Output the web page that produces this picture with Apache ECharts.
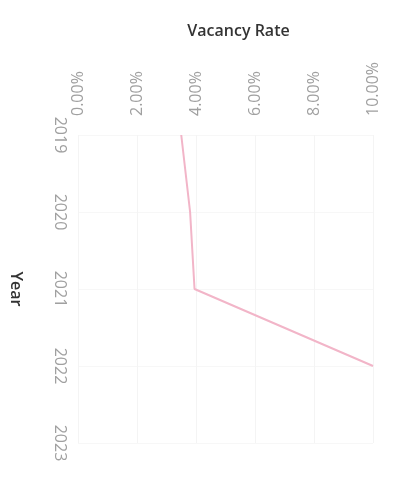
<!DOCTYPE html>
<html>
<head>
<meta charset="utf-8">
<script src="https://cdn.jsdelivr.net/npm/echarts@6/dist/echarts.min.js"></script>
<style>
  html, body { margin: 0; padding: 0; background: #fff; }
  #chart { width: 409px; height: 477px; }
</style>
</head>
<body>
<div id="chart"></div>
<script>
// Annual vacancy rate, years run down the vertical axis
const years = ['2019', '2020', '2021', '2022', '2023'];
const vacancyRate = [3.5, 3.8, 3.95, 10.0, null];
const rateTicks = [0, 2, 4, 6, 8, 10];

const chart = echarts.init(document.getElementById('chart'), null, { renderer: 'canvas' });

chart.setOption({
  animation: false,
  backgroundColor: '#ffffff',
  textStyle: { fontFamily: 'Open Sans' },
  grid: { left: 70, right: 36, top: 135, bottom: 34 },
  xAxis: {
    type: 'value',
    position: 'top',
    min: rateTicks[0],
    max: rateTicks[rateTicks.length - 1],
    interval: rateTicks[1] - rateTicks[0],
    name: 'Vacancy Rate',
    nameLocation: 'middle',
    nameGap: 96,
    nameTextStyle: { fontSize: 16, fontWeight: 600, color: '#333', padding: [0, 0, 0, 26] },
    axisLine: { show: false },
    axisTick: { show: false },
    axisLabel: {
      rotate: -90,
      margin: 19,
      fontSize: 16,
      color: '#a0a0a0',
      formatter: v => v.toFixed(2) + '%'
    },
    splitLine: { show: true, lineStyle: { color: '#f4f4f4', width: 1 } }
  },
  yAxis: {
    type: 'category',
    data: years,
    inverse: true,
    boundaryGap: false,
    name: 'Year',
    nameLocation: 'middle',
    nameRotate: -90,
    nameGap: 54,
    nameTextStyle: { fontSize: 16, fontWeight: 600, color: '#333' },
    axisLine: { show: false },
    axisTick: { show: false },
    axisLabel: {
      rotate: -90,
      margin: 10,
      fontSize: 16,
      color: '#a0a0a0'
    },
    splitLine: { show: true, lineStyle: { color: '#f7f7f7', width: 1 } }
  },
  series: [{
    type: 'line',
    data: vacancyRate,
    showSymbol: false,
    lineStyle: { color: '#f2b5c8', width: 2 },
    itemStyle: { color: '#f2b5c8' }
  }]
});
</script>
</body>
</html>
